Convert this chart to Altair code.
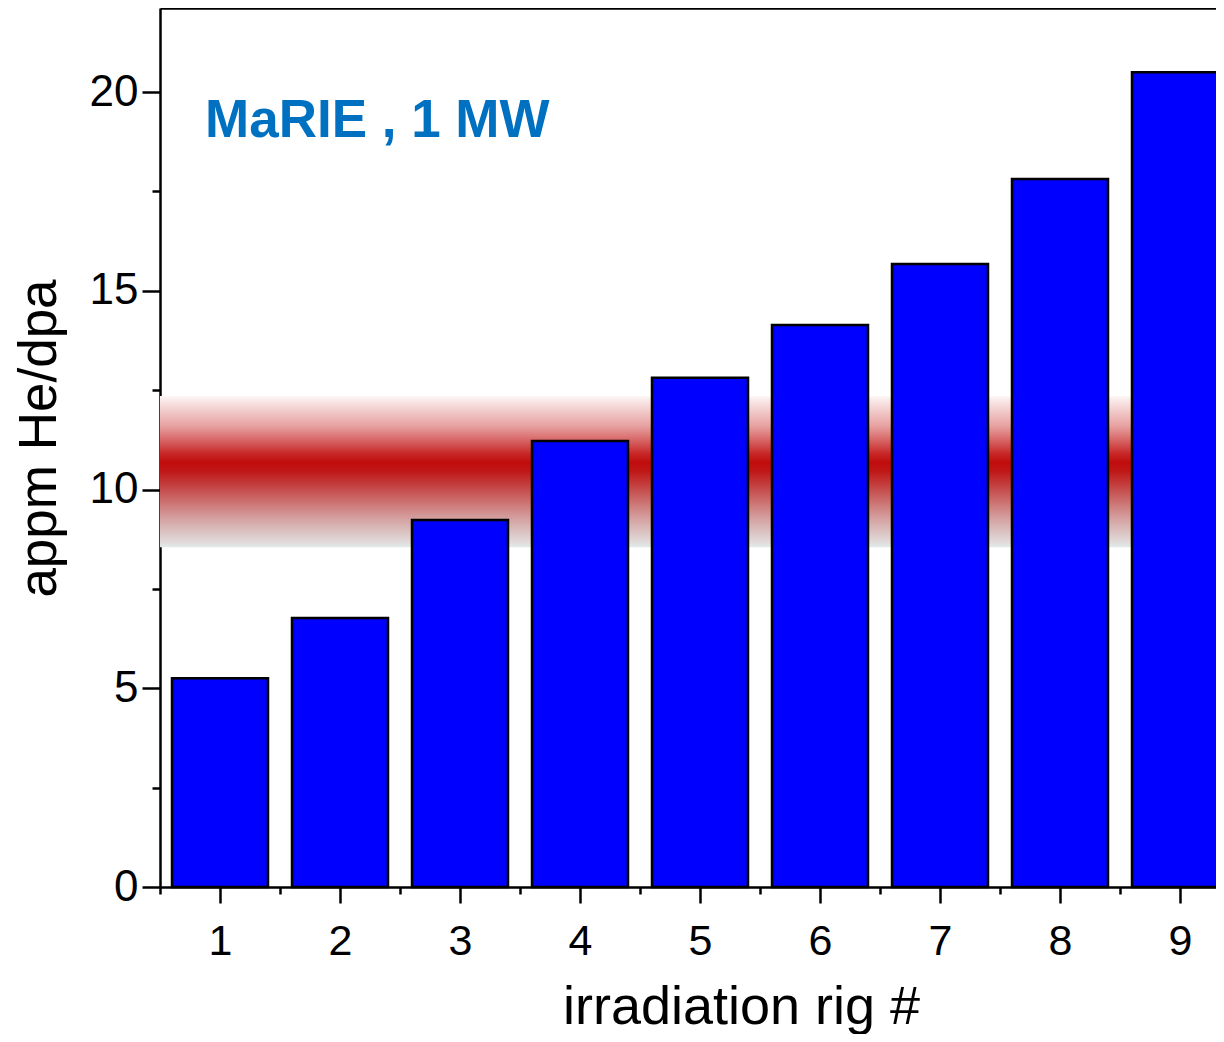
import altair as alt
import pandas as pd

# ---- data ----
rigs = [1, 2, 3, 4, 5, 6, 7, 8, 9]
he_per_dpa = [5.25, 6.77, 9.23, 11.22, 12.81, 14.14, 15.67, 17.81, 20.5]
band_low = [8.55]
band_high = [12.35]
label_text = ["MaRIE , 1 MW"]
x_major = [1, 2, 3, 4, 5, 6, 7, 8, 9]
x_minor = [0.5, 1.5, 2.5, 3.5, 4.5, 5.5, 6.5, 7.5, 8.5]
y_major = [0, 5, 10, 15, 20]
y_minor = [2.5, 7.5, 12.5, 17.5]

bars_df = pd.DataFrame({"rig": rigs, "value": he_per_dpa})
band_df = pd.DataFrame({"lo": band_low, "hi": band_high})
label_df = pd.DataFrame({"t": label_text})

FONT = "Liberation Sans"
W, H = 1056, 879

xscale = alt.Scale(domain=[0.5, 0.5 + W / 120.0], nice=False, zero=False, padding=0)
yscale = alt.Scale(domain=[0, H / 39.75], nice=False, zero=True, padding=0)

band_gradient = alt.Gradient(
    gradient="linear", x1=0, x2=0, y1=0, y2=1,
    stops=[
        alt.GradientStop(color="#fdf6f6", offset=0.0),
        alt.GradientStop(color="#f2caca", offset=0.1),
        alt.GradientStop(color="#e7a0a0", offset=0.2),
        alt.GradientStop(color="#d66060", offset=0.3),
        alt.GradientStop(color="#c82828", offset=0.38),
        alt.GradientStop(color="#c00c0c", offset=0.44),
        alt.GradientStop(color="#c01818", offset=0.5),
        alt.GradientStop(color="#c54444", offset=0.6),
        alt.GradientStop(color="#cc7070", offset=0.7),
        alt.GradientStop(color="#d49c9c", offset=0.8),
        alt.GradientStop(color="#dcc2c2", offset=0.9),
        alt.GradientStop(color="#e2dcdc", offset=0.97),
        alt.GradientStop(color="#e0ecea", offset=1.0),
    ],
)

band = alt.Chart(band_df).mark_rect(fill=band_gradient).encode(
    x=alt.value(0),
    x2=alt.value("width"),
    y=alt.Y("lo:Q", scale=yscale, axis=None),
    y2="hi:Q",
)

major_x = alt.Axis(
    orient="bottom", values=x_major, title="irradiation rig #",
    format="d", labelFont=FONT, labelFontSize=43, labelColor="black",
    labelPadding=17, tickSize=16, tickWidth=2.5, tickColor="black",
    domainColor="black", domainWidth=2.5, grid=False,
    titleFont=FONT, titleFontSize=54, titleFontWeight="normal", titleColor="black",
    titleX=581, titleY=136, titleBaseline="alphabetic", titleAlign="center",
    labelFlush=False, labelOverlap=False,
)
major_y = alt.Axis(
    orient="left", values=y_major, title="appm He/dpa",
    format="d", labelFont=FONT, labelFontSize=44, labelColor="black",
    labelPadding=4, tickSize=18, tickWidth=2.5, tickColor="black",
    domainColor="black", domainWidth=2.5, grid=False,
    titleFont=FONT, titleFontSize=53, titleFontWeight="normal", titleColor="black",
    titleX=-105, titleY=430, titleAngle=-90, titleBaseline="alphabetic", titleAlign="center",
    labelFlush=False, labelOverlap=False,
)

bars = alt.Chart(bars_df).mark_bar(
    size=96, color="#0000ff", stroke="black", strokeWidth=2.5, clip=False
).encode(
    x=alt.X("rig:Q", scale=xscale, axis=major_x),
    y=alt.Y("value:Q", scale=yscale, axis=major_y),
)

minor_x = alt.Axis(
    orient="bottom", values=x_minor, labels=False, title=None, domain=False,
    tickSize=7, tickWidth=2.5, tickColor="black", grid=False,
)
minor_y = alt.Axis(
    orient="left", values=y_minor, labels=False, title=None, domain=False,
    tickSize=8, tickWidth=2.5, tickColor="black", grid=False,
)

minor = alt.Chart(bars_df).mark_point(opacity=0).encode(
    x=alt.X("rig:Q", scale=xscale, axis=minor_x),
    y=alt.Y("value:Q", scale=yscale, axis=minor_y),
)

top_x = alt.Axis(
    orient="top", values=[], labels=False, ticks=False, title=None,
    domain=True, domainColor="black", domainWidth=2.5, grid=False,
)
top = alt.Chart(bars_df).mark_point(opacity=0).encode(
    x=alt.X("rig:Q", scale=xscale, axis=top_x),
)

label = alt.Chart(label_df).mark_text(
    font=FONT, fontSize=53, fontWeight="bold", color="#0070c0",
    align="left", baseline="alphabetic",
).encode(
    x=alt.value(45),
    y=alt.value(129),
    text="t:N",
)

chart = (
    alt.layer(band, bars, minor, top, label)
    .resolve_axis(x="independent", y="independent")
    .properties(
        width=W, height=H,
        background="white",
        autosize=alt.AutoSizeParams(type="none"),
        padding={"left": 152, "top": 0, "right": 0, "bottom": 147},
    )
    .configure_view(strokeWidth=0, stroke=None)
)

chart.save("out.html", embed_options={"renderer": "svg", "actions": False})
